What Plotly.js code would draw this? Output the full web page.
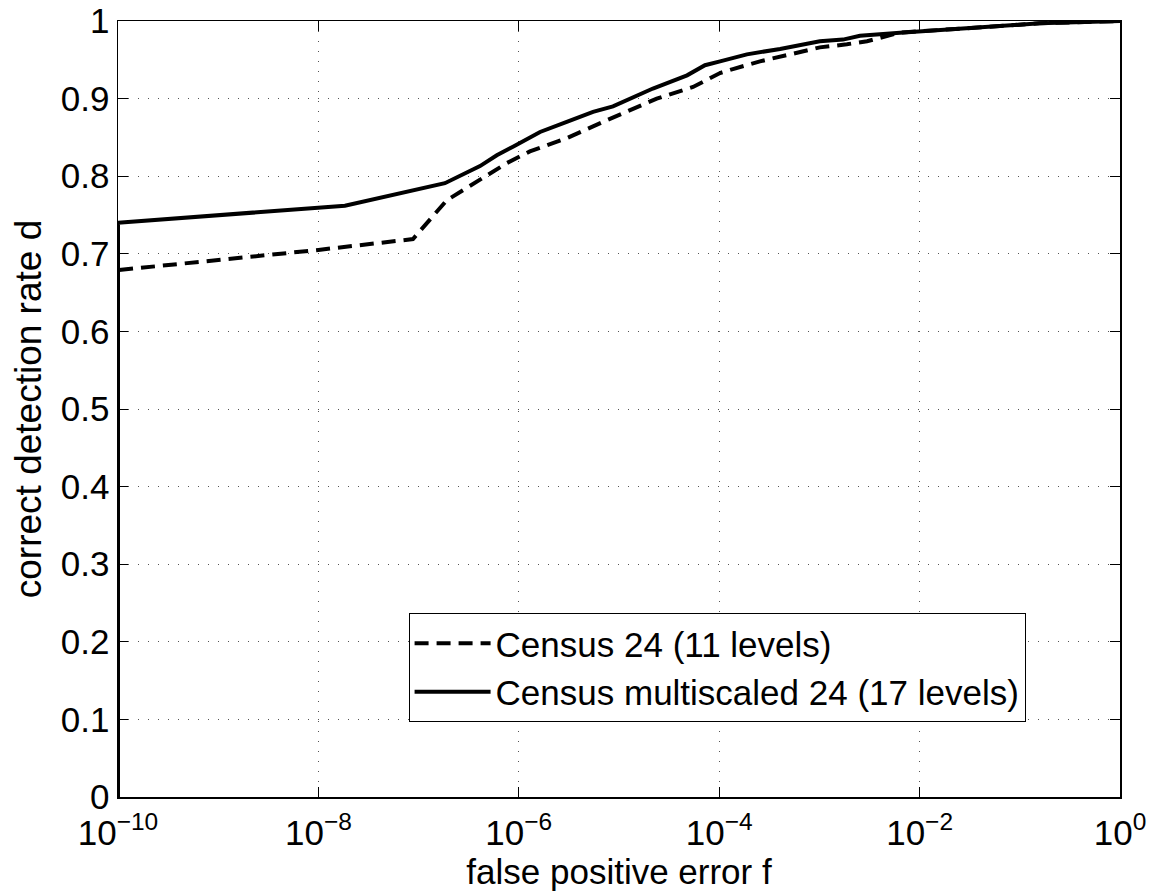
<!DOCTYPE html>
<html>
<head>
<meta charset="utf-8">
<script src="https://cdn.plot.ly/plotly-3.0.1.min.js"></script>
<style>html,body{margin:0;padding:0;background:#fff;}#chart{width:1152px;height:895px;}</style>
</head>
<body>
<div id="chart"></div>
<script>
// Census 24 (11 levels) - dashed
var fprCensus = [1e-10, 1e-10, 1e-8, 8.79e-8, 1.91e-7, 2.63e-7, 4.40e-7, 7.62e-7, 1.29e-6, 3.01e-6, 7.53e-6, 1.38e-5, 2.38e-5, 5.48e-5, 7.50e-5, 1.02e-4, 1.37e-4, 2.55e-4, 5.09e-4, 1.01e-3, 1.88e-3, 2.99e-3, 6.37e-3, 0.0251, 0.158, 1];
var detCensus = [0, 0.679, 0.705, 0.719, 0.769, 0.780, 0.797, 0.817, 0.832, 0.849, 0.872, 0.887, 0.900, 0.915, 0.924, 0.933, 0.938, 0.948, 0.957, 0.966, 0.970, 0.974, 0.985, 0.990, 0.997, 1.0];

// Census multiscaled 24 (17 levels) - solid
var fprMulti = [1e-10, 1e-10, 1.84e-8, 1.83e-7, 4.10e-7, 6.03e-7, 8.75e-7, 1.63e-6, 3.01e-6, 5.51e-6, 8.71e-6, 1.38e-5, 2.18e-5, 4.78e-5, 7.21e-5, 1.02e-4, 1.89e-4, 4.05e-4, 1.01e-3, 1.72e-3, 2.54e-3, 6.37e-3, 0.0251, 0.158, 1];
var detMulti = [0, 0.740, 0.762, 0.791, 0.813, 0.827, 0.838, 0.857, 0.870, 0.883, 0.890, 0.902, 0.913, 0.930, 0.943, 0.948, 0.957, 0.964, 0.974, 0.976, 0.981, 0.985, 0.990, 0.997, 1.0];

var seriesNames = ['Census 24 (11 levels)', 'Census multiscaled 24 (17 levels)'];
var xTickVals = [1e-10, 1e-8, 1e-6, 1e-4, 1e-2, 1];
var xTickText = ['10<sup>\u221210</sup>', '10<sup>\u22128</sup>', '10<sup>\u22126</sup>', '10<sup>\u22124</sup>', '10<sup>\u22122</sup>', '10<sup>0</sup>'];
var yTickVals = [0, 0.1, 0.2, 0.3, 0.4, 0.5, 0.6, 0.7, 0.8, 0.9, 1];
var yTickText = ['0', '0.1', '0.2', '0.3', '0.4', '0.5', '0.6', '0.7', '0.8', '0.9', '1'];

var FONT = 'Liberation Sans, Arial, Helvetica, sans-serif';

var traces = [
  {x: fprCensus, y: detCensus, name: seriesNames[0], type: 'scatter', mode: 'lines',
   line: {color: '#000', width: 4, dash: '14px,8px'}},
  {x: fprMulti, y: detMulti, name: seriesNames[1], type: 'scatter', mode: 'lines',
   line: {color: '#000', width: 4}}
];

var layout = {
  width: 1152, height: 895,
  margin: {l: 118, r: 32, t: 21, b: 98},
  paper_bgcolor: '#fff', plot_bgcolor: '#fff',
  font: {family: FONT, color: '#000', size: 35},
  showlegend: true,
  legend: {
    x: 0.29, y: 0.237, xanchor: 'left', yanchor: 'top',
    bgcolor: '#fff', bordercolor: '#000', borderwidth: 1,
    font: {family: FONT, size: 35, color: '#000'},
    itemwidth: 76, tracegroupgap: 0
  },
  xaxis: {
    type: 'log', range: [-10, 0],
    tickmode: 'array', tickvals: xTickVals, ticktext: xTickText,
    ticks: 'inside', ticklen: 10, tickwidth: 1, tickcolor: '#000',
    ticklabelstandoff: 4,
    showline: true, linecolor: '#000', linewidth: 1.5, mirror: 'ticks',
    showgrid: true, gridcolor: '#555', gridwidth: 1, griddash: '1px,9px',
    zeroline: false,
    tickfont: {family: FONT, size: 35, color: '#000'},
    title: {text: 'false positive error f', font: {family: FONT, size: 35, color: '#000'}, standoff: 0}
  },
  yaxis: {
    range: [0, 1],
    tickmode: 'array', tickvals: yTickVals, ticktext: yTickText,
    ticks: 'inside', ticklen: 10, tickwidth: 1, tickcolor: '#000',
    showline: true, linecolor: '#000', linewidth: 1.5, mirror: 'ticks',
    showgrid: true, gridcolor: '#555', gridwidth: 1, griddash: '1px,9px',
    zeroline: false,
    tickfont: {family: FONT, size: 35, color: '#000'},
    title: {text: 'correct detection rate d', font: {family: FONT, size: 37, color: '#000'}, standoff: 8}
  }
};

Plotly.newPlot('chart', traces, layout, {displayModeBar: false, staticPlot: true});
</script>
</body>
</html>
